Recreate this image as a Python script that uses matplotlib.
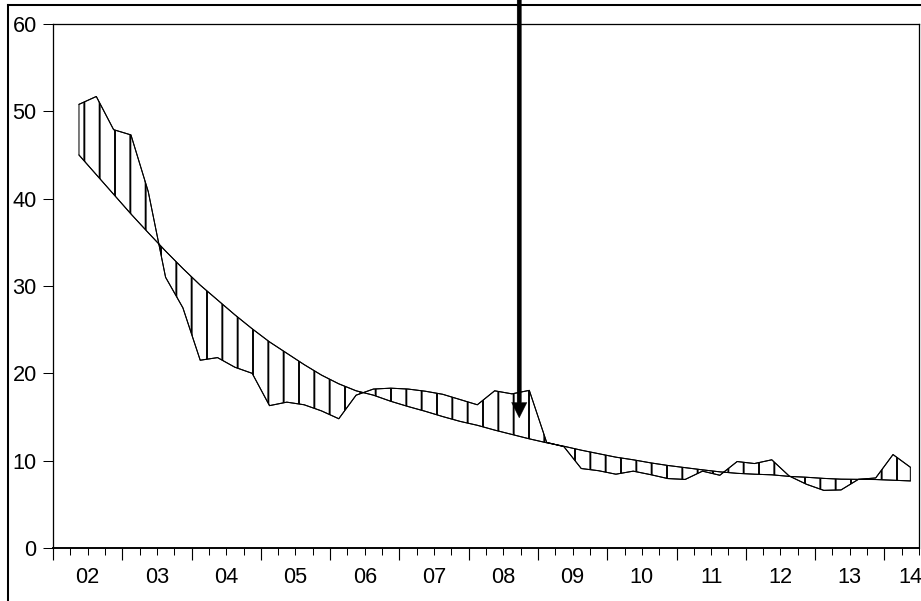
import numpy as np
import matplotlib
matplotlib.use('Agg')
import matplotlib.pyplot as plt
from matplotlib.lines import Line2D

# quarterly series, 2002Q2 .. 2014Q2
actual = [50.8, 51.7, 47.9, 47.3, 40.8, 31.0, 27.5, 21.5, 21.8, 20.7,
          20.0, 16.3, 16.7, 16.4, 15.7, 14.8, 17.5, 18.2, 18.3, 18.2,
          17.95, 17.6, 17.0, 16.4, 18.0, 17.65, 18.05, 12.1, 11.6, 9.1,
          8.85, 8.45, 8.8, 8.4, 7.95, 7.85, 8.8, 8.33, 9.9, 9.67,
          10.1, 8.25, 7.3, 6.6, 6.65, 7.86, 8.02, 10.7, 9.25]
trend = [45.0, 42.75, 40.5, 38.25, 36.1, 34.0, 32.0, 30.1, 28.4, 26.7,
         25.1, 23.6, 22.3, 21.0, 19.8, 18.8, 18.0, 17.5, 16.8, 16.2,
         15.65, 15.05, 14.5, 14.05, 13.5, 13.0, 12.5, 12.05, 11.65, 11.2,
         10.8, 10.4, 10.1, 9.75, 9.45, 9.2, 8.95, 8.72, 8.55, 8.45,
         8.38, 8.2, 8.1, 7.97, 7.88, 7.86, 7.84, 7.76, 7.68]
start_year = 2002
first_quarter = 2
years = list(range(2002, 2015))
year_labels = ['02', '03', '04', '05', '06', '07', '08', '09',
               '10', '11', '12', '13', '14']
arrow_at = 2008.73   # point the arrow marks
arrow_tip = 14.9

plt.rcParams['font.family'] = ['Liberation Sans', 'DejaVu Sans']
plt.rcParams['hatch.linewidth'] = 1.5

n = len(actual)
x = start_year + (first_quarter - 1) * 0.25 + 0.125 + 0.25 * np.arange(n)
xmax = x[-1] + 0.125

fig = plt.figure(figsize=(921 / 92, 601 / 92), dpi=92)
ax = fig.add_axes([53 / 921, 1 - 548 / 601, (919 - 53) / 921, (548 - 24) / 601])

ax.fill_between(x, actual, trend, facecolor='none', edgecolor='black',
                hatch='|', linewidth=0.8)
ax.plot(x, actual, color='black', linewidth=0.8)
ax.plot(x, trend, color='black', linewidth=0.8)

ax.set_xlim(start_year, xmax)
ax.set_ylim(0, 60)

ax.set_yticks([0, 10, 20, 30, 40, 50, 60])
ax.tick_params(axis='y', direction='out', length=7.8, width=0.8, pad=5,
               labelsize=17, right=False)

ax.set_xticks(years)
ax.set_xticklabels([])
ax.set_xticks(np.arange(start_year, xmax + 0.01, 0.25), minor=True)
ax.tick_params(axis='x', which='major', direction='out', length=9, width=0.9)
ax.tick_params(axis='x', which='minor', direction='out', length=5.7, width=0.8)

label_x = [min(y + 0.5, xmax - 0.12) for y in years]
for lx, lab in zip(label_x, year_labels):
    ax.annotate(lab, xy=(lx, 0), xycoords=('data', 'axes fraction'),
                xytext=(0, -14.5), textcoords='offset points',
                ha='center', va='top', fontsize=17)

for s in ax.spines.values():
    s.set_linewidth(1.0)
ax.spines['bottom'].set_linewidth(1.5)

# arrow from the top of the picture
ax.annotate('', xy=(arrow_at, arrow_tip), xycoords='data',
            xytext=(arrow_at, 1.0), textcoords=('data', 'figure fraction'),
            arrowprops=dict(width=3.3, headwidth=12, headlength=12,
                            facecolor='black', edgecolor='black', lw=0.3,
                            shrink=0),
            annotation_clip=False)

# outer frame (left and top edges)
fx = 8 / 921
fy = 1 - 5 / 601
fig.add_artist(Line2D([fx, fx], [0, fy], color='black', lw=1.6,
                      transform=fig.transFigure))
fig.add_artist(Line2D([fx, 1], [fy, fy], color='black', lw=1.6,
                      transform=fig.transFigure))

fig.savefig('out.png', dpi=92)
plt.close(fig)
